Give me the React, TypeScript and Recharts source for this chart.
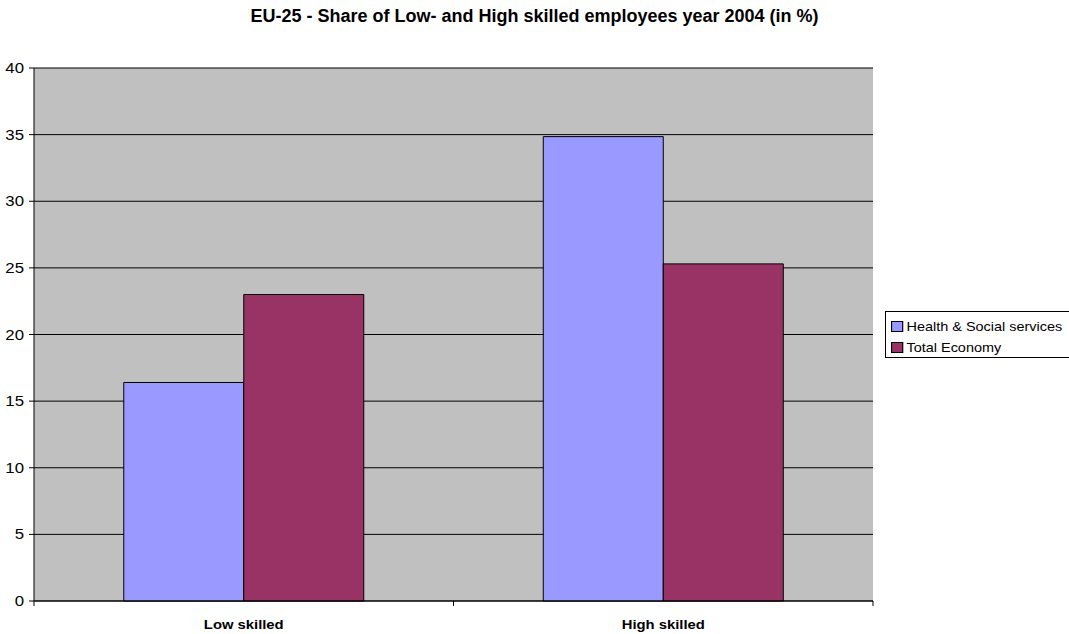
import { BarChart, Bar, XAxis, YAxis, CartesianGrid } from "recharts";

const categories = ["Low skilled", "High skilled"];
const healthSocial = [16.4, 34.85];
const totalEconomy = [23.0, 25.3];
const yTicks = [0, 5, 10, 15, 20, 25, 30, 35, 40];

const data = categories.map((name, i) => ({
  name,
  health: healthSocial[i],
  total: totalEconomy[i],
}));

const FONT = "'Liberation Sans', Arial, sans-serif";
const X_TICK_MARGIN = 19;

// the source renders its small text a bit wider than normal, so stretch it
const YTick = (props: any) => {
  const { x, y, payload } = props;
  return (
    <g transform={`translate(${x},${y}) scale(1.2,1)`}>
      <text x={0} y={0} dy="0.36em" textAnchor="end" fill="#000" fontSize={14} fontFamily={FONT}>
        {payload.value}
      </text>
    </g>
  );
};

// category label plus tick marks at the band edges (Excel style)
const XTick = (props: any) => {
  const { x, y, payload } = props;
  const half = payload.offset || 0;
  const axisY = y - X_TICK_MARGIN;
  return (
    <g>
      <line x1={x - half} x2={x - half} y1={axisY} y2={axisY + 5} stroke="#000" />
      <line x1={x + half} x2={x + half} y1={axisY} y2={axisY + 5} stroke="#000" />
      <g transform={`translate(${x},${y}) scale(1.14,1)`}>
        <text x={0} y={0} dy="0.71em" textAnchor="middle" fill="#000" fontSize={13} fontWeight="bold" fontFamily={FONT}>
          {payload.value}
        </text>
      </g>
    </g>
  );
};

const legendItems = [
  { label: "Health & Social services", color: "#9999FF" },
  { label: "Total Economy", color: "#993366" },
];

const App = () => {
  return (
    <div style={{ position: "absolute", left: 0, top: 0, width: 1069, height: 634, background: "#fff", fontFamily: FONT, overflow: "hidden" }}>
      <div
        style={{
          position: "absolute",
          left: 0,
          top: 7,
          width: 1069,
          textAlign: "center",
          fontWeight: "bold",
          fontSize: 18,
          lineHeight: "18px",
        }}
      >
        EU-25 - Share of Low- and High skilled employees year 2004 (in %)
      </div>
      <BarChart
        width={1069}
        height={634}
        data={data}
        margin={{ top: 68, right: 196, left: 0, bottom: 0 }}
        barCategoryGap="21.4%"
        barGap={0}
      >
        <CartesianGrid fill="#C0C0C0" stroke="#000" vertical={false} />
        <XAxis
          dataKey="name"
          height={33}
          tickLine={false}
          tickSize={0}
          tickMargin={X_TICK_MARGIN}
          axisLine={{ stroke: "#000" }}
          tick={<XTick />}
        />
        <YAxis
          width={34}
          domain={[0, 40]}
          ticks={yTicks}
          interval={0}
          tickSize={5}
          tickMargin={5}
          axisLine={{ stroke: "#000" }}
          tickLine={{ stroke: "#000" }}
          tick={<YTick />}
        />
        <Bar dataKey="health" name="Health & Social services" fill="#9999FF" stroke="#000" strokeWidth={1} isAnimationActive={false} />
        <Bar dataKey="total" name="Total Economy" fill="#993366" stroke="#000" strokeWidth={1} isAnimationActive={false} />
      </BarChart>
      <div
        style={{
          position: "absolute",
          left: 885,
          top: 311,
          width: 200,
          height: 47,
          border: "1px solid #000",
          background: "#fff",
          boxSizing: "border-box",
        }}
      >
        <div style={{ position: "absolute", left: 5, top: 4, transform: "scaleX(1.11)", transformOrigin: "0 0", fontSize: 13, lineHeight: "21px", whiteSpace: "nowrap" }}>
          {legendItems.map((item) => (
            <div key={item.label} style={{ display: "flex", alignItems: "center" }}>
              <span
                style={{
                  display: "inline-block",
                  width: 9,
                  height: 9,
                  background: item.color,
                  border: "1px solid #000",
                  marginRight: 3,
                }}
              />
              {item.label}
            </div>
          ))}
        </div>
      </div>
    </div>
  );
};

export default App;
